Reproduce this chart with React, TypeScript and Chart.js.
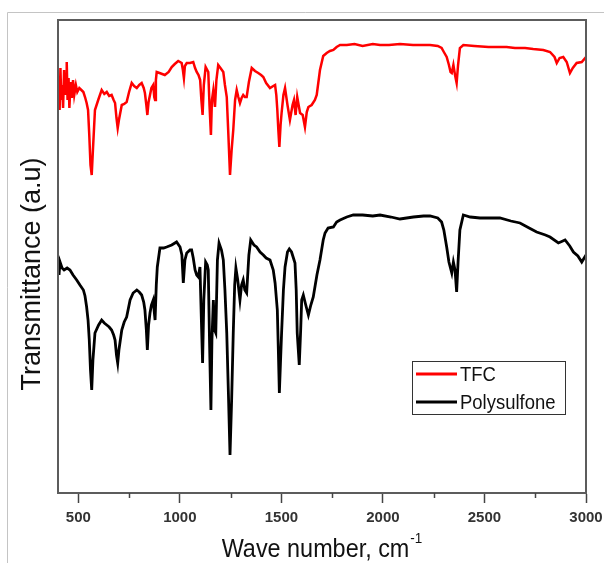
import React, { useEffect, useRef } from "react";
import { Chart, registerables } from "chart.js";
Chart.register(...registerables);

const seriesLabels = ["TFC", "Polysulfone"];
const xTickValues = [500, 1000, 1500, 2000, 2500, 3000];
const xMinorTicks = [750, 1250, 1750, 2250, 2750];

const tfcWave = [
  400, 404, 408, 412, 416, 420, 425, 430, 435, 440,
  443, 447, 452, 456, 462, 468, 474, 480, 488, 495,
  505, 515, 525, 533, 541, 548, 554, 560, 566, 572,
  582, 598, 615, 628, 640, 652, 664, 674, 681, 688,
  694, 700, 714, 726, 738, 750, 763, 775, 788, 800,
  812, 822, 828, 835, 840, 846, 853, 860, 869, 874,
  878, 882, 886, 900, 926, 945, 960, 975, 992, 1001,
  1009, 1015, 1020, 1025, 1034, 1050, 1066, 1075, 1083, 1092,
  1100, 1106, 1112, 1118, 1127, 1135, 1140, 1146, 1153, 1158,
  1165, 1173, 1180, 1189, 1200, 1214, 1222, 1231, 1238, 1247,
  1255, 1263, 1272, 1280, 1288, 1296, 1304, 1312, 1320, 1329,
  1340, 1354, 1370, 1386, 1400, 1411, 1425, 1444, 1460, 1469,
  1475, 1480, 1485, 1490, 1496, 1501, 1510, 1518, 1530, 1542,
  1555, 1562, 1570, 1578, 1585, 1592, 1605, 1616, 1625, 1633,
  1649, 1665, 1674, 1690, 1706, 1723, 1739, 1756, 1772, 1789,
  1822, 1860, 1900, 1950, 1986, 2030, 2084, 2148, 2200, 2232,
  2270, 2289, 2300, 2314, 2325, 2333, 2339, 2347, 2355, 2363,
  2370, 2379, 2396, 2450, 2520, 2576, 2609, 2650, 2700, 2740,
  2790, 2823, 2845, 2856, 2870, 2888, 2905, 2921, 2935, 2954,
  2979, 3000,
];
const tfcValue = [
  393, 413, 383, 425, 393, 408, 385, 423, 398, 418,
  431, 393, 415, 385, 411, 395, 413, 398, 408, 401,
  405, 403, 401, 396, 390, 383, 358, 328, 318, 343,
  383, 393, 403, 399, 401, 397, 398, 393, 390, 375,
  365, 373, 388, 389, 391, 401, 410, 407, 405, 408,
  410, 405, 400, 388, 378, 391, 398, 405, 408, 396,
  393, 413, 421, 420, 418, 421, 426, 429, 432, 431,
  430, 423, 415, 427, 430, 430, 431, 425, 421, 418,
  413, 393, 378, 408, 426, 423, 421, 388, 358, 393,
  403, 386, 413, 428, 425, 421, 408, 396, 363, 318,
  343, 363, 393, 403, 396, 390, 395, 398, 396, 396,
  411, 425, 422, 420, 418, 416, 410, 405, 407, 408,
  398, 383, 363, 346, 368, 380, 398, 405, 388, 373,
  388, 393, 378, 396, 388, 380, 378, 366, 381, 386,
  388, 393, 398, 423, 437, 440, 442, 443, 446, 448,
  448, 449, 447, 449, 448, 448, 449, 448, 448, 448,
  447, 445, 441, 436, 428, 421, 420, 428, 418, 410,
  428, 445, 448, 447, 446, 446, 446, 445, 445, 444,
  443, 441, 436, 430, 435, 436, 431, 420, 425, 430,
  431, 436,
];

const psfWave = [
  400, 405, 410, 420, 430, 445, 459, 474, 492, 508,
  525, 533, 541, 548, 554, 560, 566, 572, 582, 600,
  615, 628, 640, 652, 664, 674, 681, 688, 694, 700,
  714, 726, 738, 755, 770, 788, 800, 812, 822, 828,
  835, 840, 846, 853, 860, 869, 874, 878, 884, 889,
  902, 920, 935, 960, 984, 1001, 1010, 1017, 1025, 1034,
  1050, 1058, 1066, 1075, 1083, 1091, 1099, 1106, 1112, 1118,
  1127, 1135, 1140, 1146, 1153, 1158, 1165, 1171, 1177, 1185,
  1193, 1205, 1214, 1222, 1231, 1240, 1247, 1255, 1263, 1270,
  1276, 1285, 1296, 1304, 1312, 1320, 1329, 1340, 1349, 1365,
  1378, 1395, 1411, 1425, 1444, 1460, 1469, 1480, 1485, 1490,
  1496, 1501, 1510, 1518, 1530, 1539, 1550, 1567, 1573, 1578,
  1588, 1595, 1600, 1608, 1620, 1633, 1645, 1657, 1675, 1690,
  1706, 1715, 1730, 1756, 1772, 1789, 1822, 1854, 1900, 1950,
  1986, 2040, 2084, 2150, 2200, 2232, 2270, 2289, 2300, 2314,
  2325, 2339, 2347, 2355, 2363, 2370, 2379, 2396, 2430, 2478,
  2530, 2576, 2630, 2675, 2720, 2757, 2800, 2823, 2864, 2897,
  2920, 2938, 2960, 2979, 3000,
];
const psfValue = [
  231, 218, 231, 225, 223, 225, 223, 218, 213, 208,
  203, 197, 186, 173, 153, 123, 103, 133, 160, 168,
  173, 170, 168, 166, 163, 158, 153, 138, 130, 143,
  163, 171, 176, 193, 200, 203, 201, 198, 191, 183,
  163, 143, 168, 180, 188, 193, 181, 173, 208, 226,
  245, 245, 246, 248, 251, 246, 238, 210, 233, 240,
  243, 243, 235, 223, 218, 216, 226, 173, 130, 193,
  231, 228, 223, 153, 83, 153, 193, 163, 160, 233,
  250, 243, 233, 203, 160, 93, 38, 93, 160, 208,
  225, 213, 193, 208, 213, 203, 200, 238, 253, 248,
  246, 241, 238, 235, 233, 223, 210, 183, 143, 100,
  133, 160, 203, 226, 241, 244, 241, 230, 203, 160,
  128, 163, 193, 198, 188, 178, 188, 196, 218, 233,
  253, 260, 265, 266, 271, 273, 276, 278, 278, 277,
  278, 276, 274, 276, 277, 277, 275, 271, 263, 246,
  231, 220, 231, 223, 201, 231, 263, 278, 276, 275,
  275, 275, 272, 270, 265, 261, 258, 256, 250, 253,
  247, 241, 237, 231, 238,
];

const FONT = "'Liberation Sans', Arial, Helvetica, sans-serif";

function squeezedText(ctx: CanvasRenderingContext2D, text: string, x: number, y: number, sx: number) {
  ctx.save();
  ctx.translate(x, y);
  ctx.scale(sx, 1);
  ctx.fillText(text, 0, 0);
  ctx.restore();
}

const decorPlugin = {
  id: "decor",
  beforeDraw(chart: any) {
    const ctx = chart.ctx as CanvasRenderingContext2D;
    ctx.save();
    ctx.fillStyle = "#ffffff";
    ctx.fillRect(0, 0, chart.width, chart.height);
    ctx.strokeStyle = "#c4c4c4";
    ctx.lineWidth = 1;
    ctx.beginPath();
    ctx.moveTo(7.5, chart.height);
    ctx.lineTo(7.5, 12.5);
    ctx.lineTo(chart.width, 12.5);
    ctx.stroke();
    ctx.restore();
  },
  afterDraw(chart: any) {
    const ctx = chart.ctx as CanvasRenderingContext2D;
    const a = chart.chartArea;
    const xs = chart.scales.x;
    ctx.save();
    // plot frame
    ctx.strokeStyle = "#5c5c5c";
    ctx.lineWidth = 2;
    ctx.strokeRect(a.left, a.top, a.right - a.left, a.bottom - a.top);
    // minor ticks
    ctx.strokeStyle = "#444";
    ctx.lineWidth = 1.5;
    xMinorTicks.forEach((v) => {
      const px = Math.round(xs.getPixelForValue(v)) + 0.5;
      ctx.beginPath();
      ctx.moveTo(px, a.bottom);
      ctx.lineTo(px, a.bottom + 5);
      ctx.stroke();
    });
    // legend
    const lx = a.right - 174;
    const ly = a.top + 341;
    ctx.strokeStyle = "#333";
    ctx.lineWidth = 1;
    ctx.strokeRect(lx + 0.5, ly + 0.5, 153, 53);
    const colors = ["#ff0000", "#000000"];
    ctx.font = `21px ${FONT}`;
    ctx.textBaseline = "middle";
    ctx.textAlign = "left";
    seriesLabels.forEach((lab, i) => {
      const yy = ly + 13 + i * 28;
      ctx.strokeStyle = colors[i];
      ctx.lineWidth = 3;
      ctx.beginPath();
      ctx.moveTo(lx + 4, yy);
      ctx.lineTo(lx + 45, yy);
      ctx.stroke();
      ctx.fillStyle = "#111";
      squeezedText(ctx, lab, lx + 48, yy + 1, 0.88);
    });
    // y title
    ctx.save();
    ctx.translate(33, 274);
    ctx.rotate(-Math.PI / 2);
    ctx.font = `27px ${FONT}`;
    ctx.fillStyle = "#111";
    ctx.textAlign = "center";
    ctx.textBaseline = "middle";
    ctx.fillText("Transmittance (a.u)", 0, 0);
    ctx.restore();
    // x title
    const main = "Wave number, cm";
    const sup = "-1";
    ctx.font = `26px ${FONT}`;
    const mw = ctx.measureText(main).width * 0.9;
    ctx.font = `15px ${FONT}`;
    const sw = ctx.measureText(sup).width * 0.9;
    const cx = (a.left + a.right) / 2;
    const start = cx - (mw + sw + 1) / 2;
    ctx.fillStyle = "#111";
    ctx.textAlign = "left";
    ctx.textBaseline = "alphabetic";
    ctx.font = `26px ${FONT}`;
    squeezedText(ctx, main, start, 557, 0.9);
    ctx.font = `15px ${FONT}`;
    squeezedText(ctx, sup, start + mw + 1, 543, 0.9);
    ctx.restore();
  },
};

export default function App() {
  const ref = useRef<HTMLCanvasElement | null>(null);
  useEffect(() => {
    if (!ref.current) return;
    const chart = new Chart(ref.current, {
      type: "line",
      data: {
        datasets: [
          {
            label: seriesLabels[0],
            data: tfcWave.map((w, i) => ({ x: w, y: tfcValue[i] })),
            borderColor: "#ff0000",
            borderWidth: 2.5,
            pointRadius: 0,
            tension: 0,
          },
          {
            label: seriesLabels[1],
            data: psfWave.map((w, i) => ({ x: w, y: psfValue[i] })),
            borderColor: "#000000",
            borderWidth: 2.8,
            pointRadius: 0,
            tension: 0,
          },
        ],
      },
      options: {
        animation: false,
        responsive: false,
        devicePixelRatio: 1,
        layout: { padding: { left: 58, top: 20, right: 18, bottom: 0 } },
        plugins: { legend: { display: false }, tooltip: { enabled: false } },
        scales: {
          x: {
            type: "linear",
            min: 400,
            max: 3000,
            afterBuildTicks: (scale: any) => {
              scale.ticks = xTickValues.map((v) => ({ value: v }));
            },
            afterFit: (scale: any) => {
              scale.height = 70;
              scale.paddingLeft = 0;
              scale.paddingRight = 0;
            },
            grid: {
              drawOnChartArea: false,
              drawTicks: true,
              tickLength: 10,
              tickColor: "#444",
              tickWidth: 1.5,
            },
            border: { display: true, color: "#5c5c5c", width: 2 },
            ticks: {
              autoSkip: false,
              maxRotation: 0,
              padding: 6,
              color: "#333",
              font: { family: FONT, size: 15, weight: "bold" },
              callback: (v: any) => String(v),
            },
          },
          y: {
            display: false,
            min: 0,
            max: 473,
          },
        },
      },
      plugins: [decorPlugin],
    });
    return () => chart.destroy();
  }, []);
  return (
    <div style={{ position: "fixed", left: 0, top: 0, width: 604, height: 563, background: "#fff" }}>
      <canvas ref={ref} width={604} height={563} style={{ display: "block" }} />
    </div>
  );
}
